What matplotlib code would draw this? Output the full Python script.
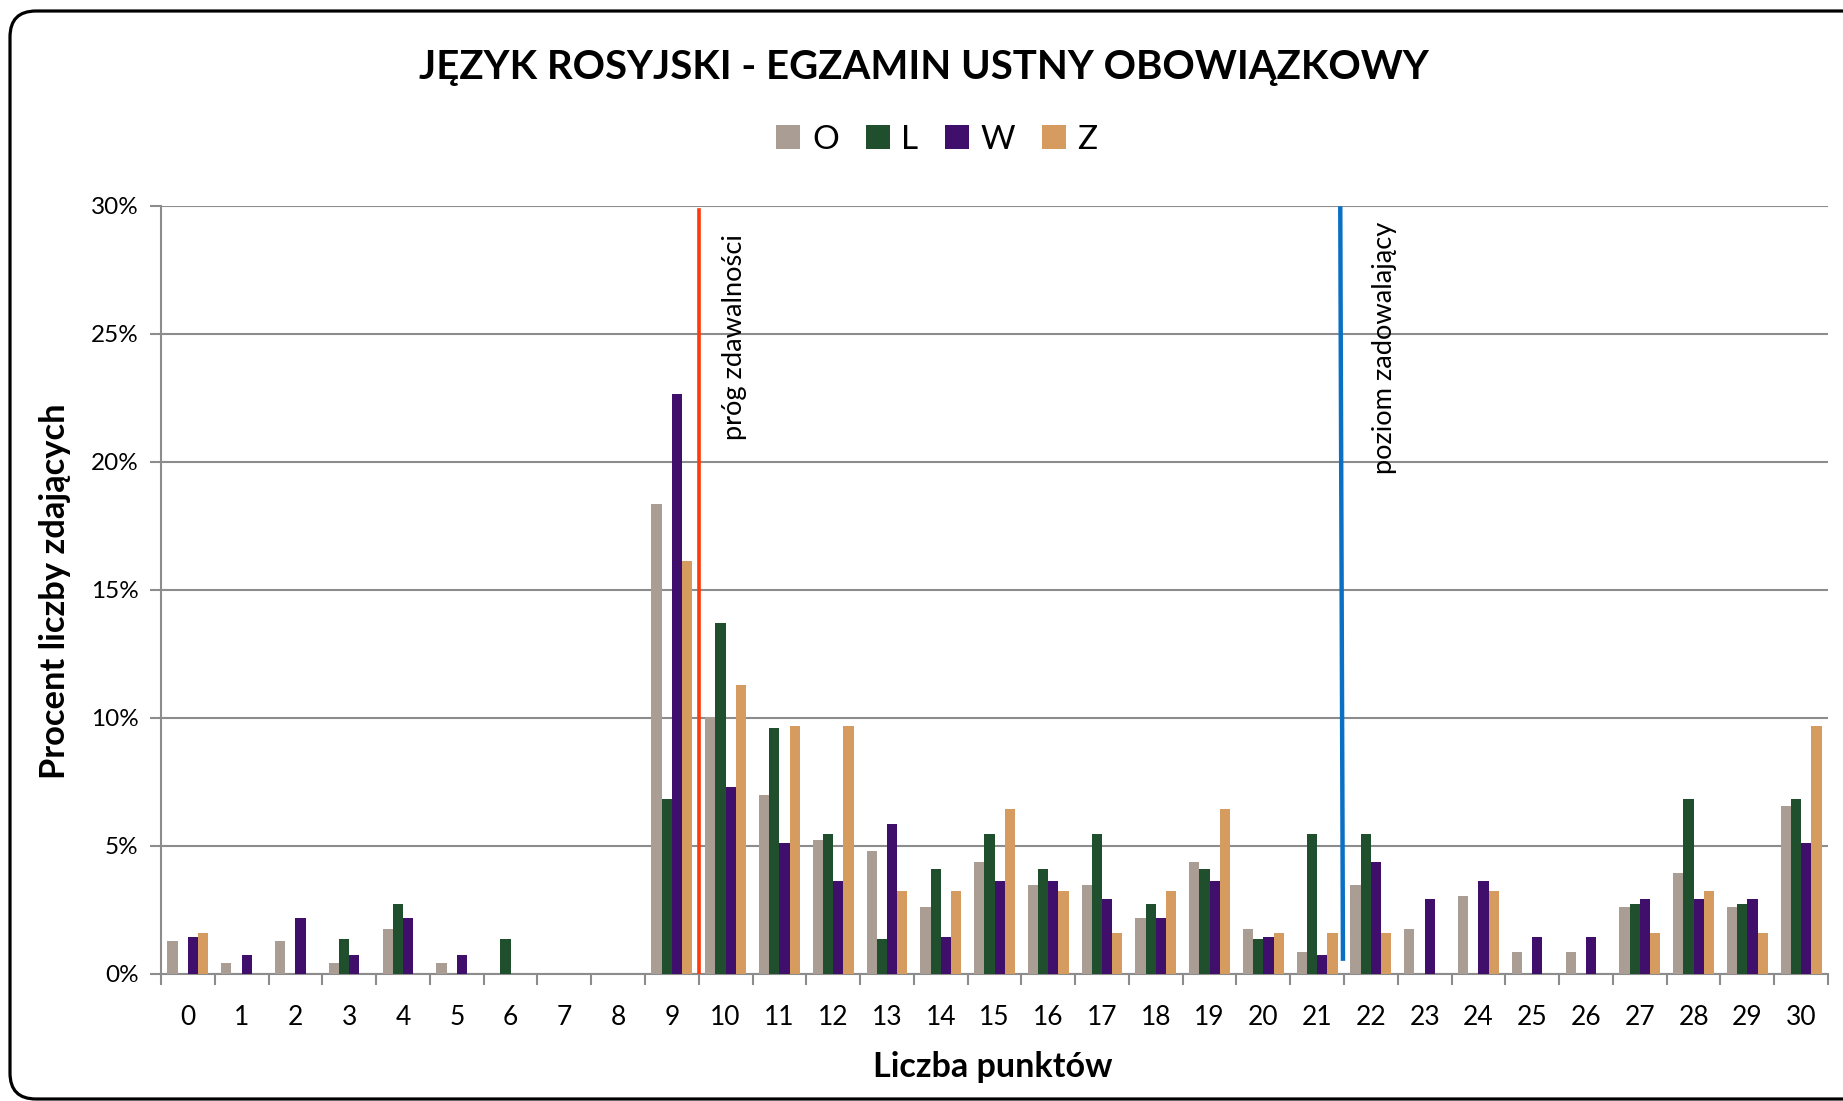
import matplotlib
matplotlib.use("Agg")
import matplotlib.pyplot as plt
import numpy as np
from matplotlib.patches import FancyBboxPatch, Patch
from matplotlib.ticker import FuncFormatter, FixedLocator

plt.rcParams['font.family'] = ['Lato', 'DejaVu Sans']

points = list(range(31))
series_names = ["O", "L", "W", "Z"]
O = [1.29, 0.44, 1.29, 0.44, 1.76, 0.44, 0, 0, 0, 18.34, 10.04, 7.0, 5.24, 4.81, 2.63, 4.38,
     3.49, 3.49, 2.19, 4.38, 1.76, 0.86, 3.48, 1.76, 3.05, 0.86, 0.86, 2.62, 3.95, 2.62, 6.57]
L = [0, 0, 0, 1.37, 2.74, 0, 1.37, 0, 0, 6.84, 13.70, 9.61, 5.48, 1.37, 4.11, 5.48,
     4.11, 5.48, 2.74, 4.11, 1.37, 5.48, 5.48, 0, 0, 0, 0, 2.74, 6.85, 2.74, 6.85]
W = [1.46, 0.74, 2.20, 0.74, 2.20, 0.74, 0, 0, 0, 22.64, 7.31, 5.12, 3.64, 5.85, 1.46, 3.64,
     3.64, 2.94, 2.19, 3.64, 1.46, 0.74, 4.38, 2.93, 3.64, 1.46, 1.46, 2.93, 2.93, 2.93, 5.12]
Z = [1.61, 0, 0, 0, 0, 0, 0, 0, 0, 16.12, 11.29, 9.68, 9.68, 3.23, 3.23, 6.45,
     3.23, 1.61, 3.23, 6.45, 1.61, 1.61, 1.61, 0, 3.23, 0, 0, 1.61, 3.23, 1.61, 9.68]
colors = ["#aa9e94", "#1f4f2c", "#3f0f6b", "#d69b5e"]

threshold_pass = 9.5
threshold_good = 21.45
label_pass = "próg zdawalności"
label_good = "poziom zadowalający"

W_PX, H_PX = 1843, 1101
fig = plt.figure(figsize=(W_PX / 100, H_PX / 100), dpi=100)

# rounded chart border
border = FancyBboxPatch((10, 2), 1900, 1101 - 11 - 2,
                        boxstyle="round,pad=0,rounding_size=26",
                        transform=None, fill=False, edgecolor="black", linewidth=2.3)
fig.patches.append(border)

ax_l, ax_r, ax_t, ax_b = 161, 1828, 206, 974
ax = fig.add_axes([ax_l / W_PX, (H_PX - ax_b) / H_PX, (ax_r - ax_l) / W_PX, (ax_b - ax_t) / H_PX])

x = np.arange(len(points))
bw = 0.19
for i, (vals, c) in enumerate(zip([O, L, W, Z], colors)):
    ax.bar(x + (i - 1.5) * bw, vals, width=bw, color=c, linewidth=0, zorder=3)

ax.set_xlim(-0.5, 30.5)
ax.set_ylim(0, 30)
ax.set_yticks([0, 5, 10, 15, 20, 25, 30])
ax.yaxis.set_major_formatter(FuncFormatter(lambda v, p: f"{int(v)}%"))
ax.set_xticks(x)
ax.set_xticklabels([str(p) for p in points])
ax.xaxis.set_minor_locator(FixedLocator(np.arange(-0.5, 31, 1)))
ax.tick_params(axis='x', which='major', length=0, labelsize=19, pad=22, colors='black')
ax.tick_params(axis='x', which='minor', length=8, width=1.5, color='#8c8c8c', direction='out')
ax.tick_params(axis='y', which='major', length=8, width=1.5, color='#8c8c8c', labelsize=17.5, pad=8)
ax.grid(axis='y', color='#8c8c8c', linewidth=1.5, zorder=1)
for s in ['top', 'right']:
    ax.spines[s].set_visible(False)
for s in ['left', 'bottom']:
    ax.spines[s].set_color('#8c8c8c')
    ax.spines[s].set_linewidth(1.5)

# threshold lines
ax.plot([threshold_pass, threshold_pass], [29.85, 0], color="#ff3a0a", linewidth=2.6, zorder=5)
ax.plot([threshold_good - 0.02, threshold_good + 0.03], [29.9, 0.6], color="#0a70c4", linewidth=3.2, zorder=5)
ax.text(10.17, 28.9, label_pass, rotation=90, ha='center', va='top', fontsize=19.6, zorder=6)
ax.text(22.25, 29.4, label_good, rotation=90, ha='center', va='top', fontsize=19.6, zorder=6)

# title, axis labels
fig.text(924 / W_PX, 1 - 67 / H_PX, "JĘZYK ROSYJSKI - EGZAMIN USTNY OBOWIĄZKOWY",
         ha='center', va='center', fontsize=28.9, fontweight='bold')
fig.text(993 / W_PX, 1 - 1067 / H_PX, "Liczba punktów", ha='center', va='center',
         fontsize=24.6, fontweight='bold')
fig.text(55 / W_PX, 1 - 591 / H_PX, "Procent liczby zdających", ha='center', va='center',
         rotation=90, fontsize=24.8, fontweight='bold')

handles = [Patch(facecolor=c, edgecolor='none') for c in colors]
fig.legend(handles, series_names, loc='center', bbox_to_anchor=(937 / W_PX, 1 - 140 / H_PX),
           ncol=4, frameon=False, fontsize=24, handlelength=0.72, handleheight=0.72,
           handletextpad=0.35, columnspacing=0.8)

fig.savefig("out.png", dpi=100)
